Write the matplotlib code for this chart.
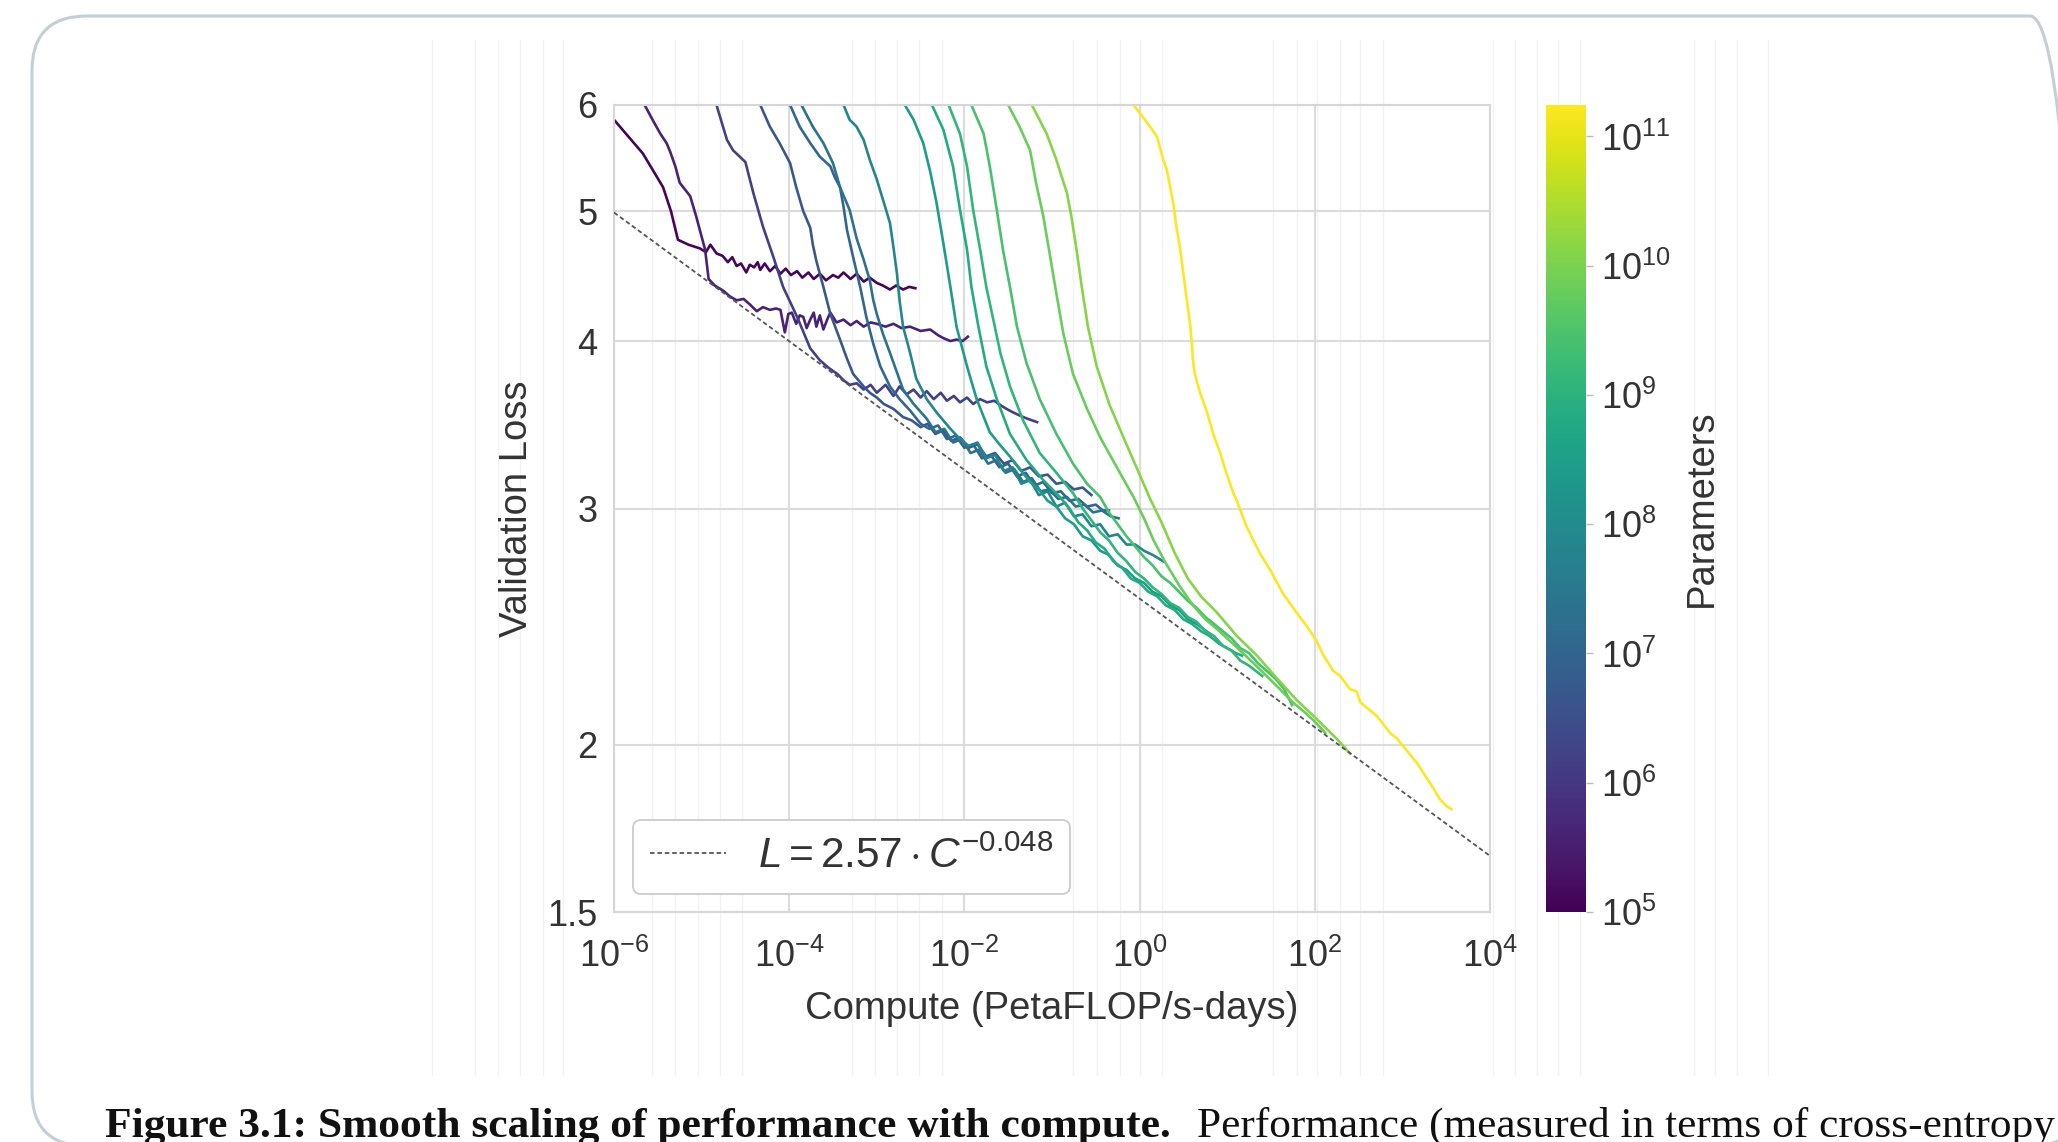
import matplotlib
matplotlib.use('Agg')
import matplotlib.pyplot as plt
from matplotlib.colors import LogNorm
from matplotlib.ticker import NullLocator
from matplotlib.patches import FancyBboxPatch
from matplotlib.lines import Line2D
from matplotlib.transforms import IdentityTransform

plt.rcParams['font.family'] = ['Liberation Sans', 'DejaVu Sans']
plt.rcParams['mathtext.fontset'] = 'custom'
plt.rcParams['mathtext.rm'] = 'Liberation Sans'
plt.rcParams['mathtext.it'] = 'Liberation Sans:italic'
plt.rcParams['mathtext.bf'] = 'Liberation Sans:bold'

# ---- data: each run is a list of (log10 compute [PF-days], validation loss)
run_1 = [(-6.0, 5.85), (-5.67, 5.52), (-5.44, 5.21), (-5.35, 5.00), (-5.27, 4.76), (-5.15, 4.72),
         (-5.02, 4.69), (-4.95, 4.66), (-4.90, 4.72), (-4.83, 4.65), (-4.76, 4.63), (-4.70, 4.58),
         (-4.65, 4.62), (-4.60, 4.55), (-4.55, 4.57), (-4.49, 4.50), (-4.45, 4.56), (-4.40, 4.54),
         (-4.36, 4.58), (-4.33, 4.52), (-4.28, 4.57), (-4.22, 4.51), (-4.16, 4.55), (-4.10, 4.49),
         (-4.04, 4.53), (-3.98, 4.48), (-3.91, 4.51), (-3.85, 4.46), (-3.78, 4.50), (-3.72, 4.45),
         (-3.65, 4.49), (-3.58, 4.44), (-3.50, 4.48), (-3.44, 4.46), (-3.38, 4.50), (-3.30, 4.45),
         (-3.23, 4.49), (-3.15, 4.43), (-3.08, 4.46), (-3.00, 4.42), (-2.93, 4.40), (-2.85, 4.37),
         (-2.78, 4.40), (-2.70, 4.37), (-2.63, 4.39), (-2.56, 4.38)]
run_2 = [(-5.65, 6.0), (-5.56, 5.85), (-5.47, 5.71), (-5.40, 5.62), (-5.36, 5.54), (-5.30, 5.40),
         (-5.25, 5.25), (-5.13, 5.13), (-5.06, 4.95), (-4.96, 4.68), (-4.92, 4.45), (-4.85, 4.40),
         (-4.75, 4.36), (-4.68, 4.32), (-4.60, 4.29), (-4.52, 4.30), (-4.45, 4.26), (-4.37, 4.21),
         (-4.30, 4.24), (-4.22, 4.22), (-4.15, 4.23), (-4.10, 4.22), (-4.05, 4.06), (-4.01, 4.19),
         (-3.97, 4.20), (-3.92, 4.12), (-3.88, 4.18), (-3.84, 4.17), (-3.80, 4.09), (-3.76, 4.15),
         (-3.72, 4.20), (-3.69, 4.10), (-3.65, 4.18), (-3.61, 4.08), (-3.56, 4.16), (-3.53, 4.20),
         (-3.46, 4.13), (-3.38, 4.15), (-3.30, 4.11), (-3.23, 4.14), (-3.15, 4.10), (-3.07, 4.13),
         (-3.00, 4.12), (-2.90, 4.10), (-2.81, 4.12), (-2.72, 4.09), (-2.62, 4.10), (-2.50, 4.07),
         (-2.39, 4.08), (-2.30, 4.04), (-2.24, 4.02), (-2.16, 4.00), (-2.09, 4.01), (-2.02, 4.00),
         (-1.96, 4.03)]
run_3 = [(-4.83, 6.0), (-4.71, 5.65), (-4.64, 5.55), (-4.50, 5.44), (-4.41, 5.16), (-4.30, 4.87),
         (-4.18, 4.62), (-4.07, 4.39), (-3.91, 4.17), (-3.76, 3.95), (-3.65, 3.87), (-3.55, 3.82),
         (-3.45, 3.78), (-3.38, 3.74), (-3.31, 3.71), (-3.23, 3.72), (-3.15, 3.68), (-3.07, 3.71),
         (-3.00, 3.66), (-2.90, 3.71), (-2.81, 3.64), (-2.74, 3.70), (-2.66, 3.65), (-2.58, 3.68),
         (-2.50, 3.63), (-2.43, 3.67), (-2.35, 3.62), (-2.27, 3.66), (-2.20, 3.61), (-2.12, 3.64),
         (-2.05, 3.60), (-1.97, 3.63), (-1.90, 3.59), (-1.82, 3.62), (-1.74, 3.60), (-1.66, 3.61),
         (-1.58, 3.58), (-1.52, 3.56), (-1.45, 3.54), (-1.37, 3.52), (-1.28, 3.50), (-1.17, 3.48)]
run_4 = [(-4.33, 6.0), (-4.22, 5.78), (-4.11, 5.62), (-3.99, 5.43), (-3.92, 5.21), (-3.84, 5.00),
         (-3.76, 4.86), (-3.73, 4.72), (-3.69, 4.59), (-3.61, 4.39), (-3.53, 4.19), (-3.42, 4.01),
         (-3.34, 3.88), (-3.27, 3.78), (-3.15, 3.70), (-3.08, 3.66), (-3.00, 3.63), (-2.92, 3.59),
         (-2.81, 3.56), (-2.70, 3.51), (-2.60, 3.49), (-2.50, 3.45), (-2.42, 3.47), (-2.33, 3.41),
         (-2.25, 3.43), (-2.15, 3.37), (-2.05, 3.39), (-1.95, 3.33), (-1.85, 3.35), (-1.75, 3.28),
         (-1.65, 3.30), (-1.55, 3.24), (-1.45, 3.26), (-1.35, 3.20), (-1.25, 3.22), (-1.15, 3.17),
         (-1.05, 3.18), (-0.95, 3.13), (-0.85, 3.14), (-0.75, 3.10), (-0.65, 3.11), (-0.55, 3.07)]
run_5 = [(-3.99, 6.0), (-3.88, 5.78), (-3.76, 5.62), (-3.65, 5.49), (-3.53, 5.40), (-3.48, 5.30),
         (-3.42, 5.21), (-3.38, 5.04), (-3.34, 4.84), (-3.27, 4.62), (-3.19, 4.39), (-3.12, 4.17),
         (-3.04, 3.98), (-2.96, 3.83), (-2.85, 3.70), (-2.74, 3.62), (-2.62, 3.55), (-2.50, 3.47),
         (-2.40, 3.44), (-2.30, 3.46), (-2.20, 3.38), (-2.10, 3.40), (-2.00, 3.33), (-1.90, 3.35),
         (-1.80, 3.27), (-1.70, 3.29), (-1.60, 3.22), (-1.50, 3.24), (-1.40, 3.17), (-1.30, 3.19),
         (-1.20, 3.12), (-1.10, 3.14), (-1.00, 3.08), (-0.90, 3.09), (-0.80, 3.04), (-0.70, 3.05),
         (-0.60, 3.01), (-0.50, 3.02), (-0.42, 2.99), (-0.35, 2.99)]
run_6 = [(-3.86, 6.0), (-3.73, 5.78), (-3.61, 5.62), (-3.50, 5.43), (-3.42, 5.21), (-3.31, 5.01),
         (-3.23, 4.77), (-3.15, 4.60), (-3.08, 4.44), (-3.04, 4.29), (-3.00, 4.19), (-2.93, 4.05),
         (-2.85, 3.92), (-2.77, 3.79), (-2.70, 3.68), (-2.58, 3.59), (-2.43, 3.50), (-2.33, 3.42),
         (-2.23, 3.44), (-2.13, 3.36), (-2.03, 3.38), (-1.93, 3.30), (-1.83, 3.32), (-1.73, 3.24),
         (-1.63, 3.26), (-1.53, 3.19), (-1.43, 3.21), (-1.33, 3.14), (-1.23, 3.16), (-1.13, 3.09),
         (-1.03, 3.10), (-0.93, 3.05), (-0.83, 3.06), (-0.73, 3.01), (-0.63, 3.02), (-0.53, 2.98),
         (-0.43, 2.99), (-0.33, 2.96), (-0.24, 2.95)]
run_7 = [(-3.38, 6.0), (-3.31, 5.85), (-3.23, 5.78), (-3.15, 5.65), (-3.08, 5.46), (-3.00, 5.28),
         (-2.93, 5.10), (-2.85, 4.90), (-2.81, 4.70), (-2.77, 4.49), (-2.74, 4.29), (-2.70, 4.10),
         (-2.62, 3.92), (-2.55, 3.75), (-2.43, 3.62), (-2.32, 3.54), (-2.16, 3.44), (-2.05, 3.38),
         (-1.95, 3.34), (-1.85, 3.36), (-1.75, 3.27), (-1.65, 3.29), (-1.55, 3.20), (-1.45, 3.22),
         (-1.35, 3.13), (-1.25, 3.15), (-1.15, 3.07), (-1.05, 3.09), (-0.95, 3.01), (-0.85, 3.03),
         (-0.75, 2.96), (-0.65, 2.97), (-0.55, 2.91), (-0.45, 2.92), (-0.35, 2.86), (-0.25, 2.87),
         (-0.15, 2.82), (-0.05, 2.82), (0.05, 2.79), (0.15, 2.77), (0.27, 2.74)]
run_8 = [(-2.68, 6.0), (-2.58, 5.85), (-2.47, 5.62), (-2.39, 5.35), (-2.32, 5.08), (-2.24, 4.73),
         (-2.16, 4.39), (-2.09, 4.10), (-1.97, 3.83), (-1.86, 3.62), (-1.71, 3.42), (-1.60, 3.35),
         (-1.48, 3.28), (-1.35, 3.20), (-1.25, 3.14), (-1.15, 3.10), (-1.05, 3.04), (-0.95, 3.01),
         (-0.85, 2.95), (-0.75, 2.92), (-0.65, 2.86), (-0.55, 2.84), (-0.45, 2.79), (-0.35, 2.77),
         (-0.25, 2.72), (-0.15, 2.70), (-0.05, 2.66), (0.05, 2.64), (0.15, 2.60), (0.25, 2.58),
         (0.35, 2.54), (0.45, 2.52), (0.55, 2.48), (0.65, 2.46), (0.80, 2.42)]
run_9 = [(-2.37, 6.0), (-2.24, 5.75), (-2.13, 5.40), (-2.05, 5.01), (-1.97, 4.68), (-1.92, 4.39),
         (-1.84, 4.10), (-1.75, 3.83), (-1.63, 3.62), (-1.48, 3.41), (-1.29, 3.26), (-1.10, 3.15),
         (-0.91, 3.06), (-0.80, 3.00), (-0.70, 2.93), (-0.60, 2.89), (-0.50, 2.83), (-0.40, 2.80),
         (-0.30, 2.74), (-0.20, 2.71), (-0.10, 2.66), (0.00, 2.64), (0.10, 2.60), (0.20, 2.58),
         (0.30, 2.54), (0.40, 2.52), (0.50, 2.48), (0.60, 2.46), (0.70, 2.43), (0.80, 2.41),
         (0.90, 2.38), (1.00, 2.36), (1.10, 2.34), (1.17, 2.33)]
run_10 = [(-2.18, 6.0), (-2.05, 5.71), (-1.97, 5.40), (-1.90, 5.01), (-1.82, 4.68), (-1.75, 4.39),
          (-1.67, 4.15), (-1.59, 3.92), (-1.48, 3.70), (-1.33, 3.49), (-1.14, 3.30), (-0.95, 3.19),
          (-0.76, 3.08), (-0.65, 3.00), (-0.55, 2.94), (-0.45, 2.88), (-0.35, 2.84), (-0.25, 2.78),
          (-0.15, 2.74), (-0.05, 2.69), (0.05, 2.66), (0.15, 2.62), (0.25, 2.59), (0.35, 2.55),
          (0.45, 2.53), (0.55, 2.49), (0.65, 2.47), (0.75, 2.43), (0.85, 2.41), (0.95, 2.37),
          (1.05, 2.35), (1.15, 2.31), (1.25, 2.29), (1.40, 2.25)]
run_11 = [(-1.92, 6.0), (-1.78, 5.71), (-1.71, 5.40), (-1.63, 5.01), (-1.56, 4.68), (-1.48, 4.39),
          (-1.40, 4.10), (-1.29, 3.85), (-1.14, 3.62), (-0.95, 3.41), (-0.76, 3.24), (-0.60, 3.13),
          (-0.45, 3.06), (-0.35, 2.98), (-0.25, 2.92), (-0.15, 2.86), (-0.05, 2.81), (0.05, 2.76),
          (0.15, 2.72), (0.25, 2.67), (0.35, 2.64), (0.45, 2.60), (0.55, 2.56), (0.65, 2.53),
          (0.75, 2.49), (0.85, 2.46), (0.95, 2.43), (1.05, 2.40), (1.15, 2.36), (1.25, 2.34),
          (1.35, 2.30), (1.45, 2.27), (1.55, 2.24), (1.65, 2.20), (1.74, 2.14)]
run_12 = [(-1.50, 6.0), (-1.37, 5.78), (-1.25, 5.55), (-1.18, 5.24), (-1.10, 4.96), (-1.02, 4.62),
          (-0.95, 4.34), (-0.87, 4.05), (-0.76, 3.78), (-0.60, 3.56), (-0.45, 3.39), (-0.26, 3.22),
          (-0.07, 3.06), (0.05, 2.95), (0.16, 2.84), (0.30, 2.73), (0.45, 2.63), (0.61, 2.54),
          (0.75, 2.48), (0.88, 2.44), (1.00, 2.40), (1.15, 2.35), (1.30, 2.30), (1.45, 2.25),
          (1.60, 2.20), (1.75, 2.15), (1.90, 2.11), (2.00, 2.08), (2.12, 2.04)]
run_13 = [(-1.23, 6.0), (-1.06, 5.71), (-0.95, 5.46), (-0.83, 5.16), (-0.78, 4.96), (-0.72, 4.68),
          (-0.66, 4.39), (-0.59, 4.10), (-0.49, 3.83), (-0.34, 3.58), (-0.15, 3.35), (0.00, 3.18),
          (0.12, 3.05), (0.25, 2.93), (0.40, 2.78), (0.55, 2.66), (0.70, 2.58), (0.88, 2.51),
          (1.11, 2.41), (1.34, 2.33), (1.57, 2.24), (1.79, 2.16), (2.02, 2.09), (2.25, 2.02),
          (2.40, 1.97)]
run_14 = [(-0.07, 6.0), (0.01, 5.91), (0.12, 5.78), (0.20, 5.68), (0.27, 5.46), (0.31, 5.37),
          (0.35, 5.21), (0.39, 5.04), (0.42, 4.87), (0.46, 4.70), (0.50, 4.49), (0.54, 4.29),
          (0.58, 4.10), (0.61, 3.87), (0.63, 3.78), (0.65, 3.74), (0.69, 3.66), (0.77, 3.54),
          (0.84, 3.41), (0.92, 3.30), (0.99, 3.19), (1.07, 3.08), (1.11, 3.04), (1.22, 2.91),
          (1.37, 2.78), (1.49, 2.70), (1.64, 2.59), (1.79, 2.51), (1.91, 2.45), (2.02, 2.39),
          (2.10, 2.33), (2.21, 2.27), (2.29, 2.25), (2.40, 2.20), (2.48, 2.19), (2.52, 2.15),
          (2.71, 2.10), (2.86, 2.04), (2.94, 2.02), (3.16, 1.94), (3.32, 1.87), (3.43, 1.82),
          (3.50, 1.80), (3.56, 1.79)]

runs = [run_1, run_2, run_3, run_4, run_5, run_6, run_7, run_8, run_9, run_10,
        run_11, run_12, run_13, run_14]
params = [1.2e5, 4e5, 1.6e6, 5e6, 1.1e7, 2.2e7, 7e7, 2.6e8, 6.5e8, 1.2e9,
          2.65e9, 6.4e9, 1.28e10, 1.75e11]

fit_coef = 2.57
fit_exp = -0.048
fit_range = [1e-6, 1e4]

x_ticks = [1e-6, 1e-4, 1e-2, 1e0, 1e2, 1e4]
loss_ticks = [1.5, 2, 3, 4, 5, 6]
loss_labels = ['1.5', '2', '3', '4', '5', '6']
param_ticks = [1e5, 1e6, 1e7, 1e8, 1e9, 1e10, 1e11]
param_range = [1e5, 1.75e11]

caption_bold = 'Figure 3.1: Smooth scaling of performance with compute.'
caption_rest = 'Performance (measured in terms of cross-entropy'

# faint page lines seen behind the figure (pixel x positions)
page_lines = [432, 475, 498, 520, 543, 563, 652, 675, 698, 720, 742, 852, 875, 897, 919, 942,
              1073, 1097, 1120, 1140, 1162, 1273, 1297, 1317, 1340, 1360, 1383,
              1493, 1515, 1537, 1558, 1580, 1694, 1715, 1737, 1768]

W, H = 2058, 1142
fig = plt.figure(figsize=(W / 100, H / 100), dpi=100)
fig.patch.set_facecolor('white')
txt = '#333333'

for px in page_lines:
    fig.add_artist(Line2D([px, px], [H - 40, H - 1075], transform=IdentityTransform(),
                          color='#f2f2f2', lw=1, zorder=-1))

frame = FancyBboxPatch((32, -4), 2085 - 32, H - 16 + 4,
                       boxstyle='round,pad=0,rounding_size=55', transform=IdentityTransform(),
                       fc='none', ec='#c3ced5', lw=2.2, zorder=-1)
fig.add_artist(frame)

ax = fig.add_axes([614 / W, 230 / H, 876 / W, 807 / H])
ax.set_facecolor('none')

cmap = plt.get_cmap('viridis')
norm = LogNorm(vmin=param_range[0], vmax=param_range[1])

for run, n in zip(runs, params):
    xs = [10 ** p[0] for p in run]
    ys = [p[1] for p in run]
    ax.plot(xs, ys, color=cmap(norm(n)), lw=1.9, zorder=2)

fit_y = [fit_coef * c ** fit_exp for c in fit_range]
fit_line, = ax.plot(fit_range, fit_y, color='#555555', lw=1.3, ls=(0, (2.5, 1.6)), zorder=3,
                    label=r'$L = 2.57 \cdot C^{-0.048}$')

ax.set_xscale('log')
ax.set_yscale('log')
ax.set_xlim(fit_range)
ax.set_ylim(1.5, 6)
ax.set_xticks(x_ticks)
ax.xaxis.set_minor_locator(NullLocator())
ax.set_yticks(loss_ticks)
ax.set_yticklabels(loss_labels)
ax.yaxis.set_minor_locator(NullLocator())

ax.grid(True, which='major', color='#dcdcdc', lw=1.5)
ax.set_axisbelow(True)
for s in ax.spines.values():
    s.set_color('#d6d6d6')
    s.set_linewidth(1.5)
ax.tick_params(axis='both', length=0, labelsize=26, labelcolor=txt)
ax.tick_params(axis='y', pad=12)
ax.tick_params(axis='x', pad=19)

ax.set_xlabel('Compute (PetaFLOP/s-days)', fontsize=27.5, color=txt, labelpad=12)
ax.set_ylabel('Validation Loss', fontsize=27.5, color=txt, labelpad=9)

leg = ax.legend(handles=[fit_line], loc='lower left', bbox_to_anchor=(0.0217, 0.0223),
                borderaxespad=0, fontsize=30.5, frameon=True, fancybox=True,
                edgecolor='#cccccc', framealpha=1, handlelength=1.8, handletextpad=0.75,
                borderpad=0.4)
leg.get_frame().set_linewidth(1.3)
for t in leg.get_texts():
    t.set_color(txt)

cax = fig.add_axes([1546 / W, 230 / H, 40 / W, 807 / H])
sm = plt.cm.ScalarMappable(norm=norm, cmap=cmap)
cb = fig.colorbar(sm, cax=cax)
cb.outline.set_visible(False)
cb.set_ticks(param_ticks)
cax.minorticks_off()
cax.tick_params(length=5, width=1, color='#bbbbbb', labelsize=26, labelcolor=txt, pad=6)
cb.set_label('Parameters', fontsize=27.5, color=txt, labelpad=9)

t1 = fig.text(105 / W, 5 / H, caption_bold, fontfamily='Liberation Serif', fontweight='bold',
              fontsize=31.3, va='baseline', ha='left', color='#111111')
fig.canvas.draw()
bb = t1.get_window_extent()
fig.text((bb.x1 + 26) / W, 5 / H, caption_rest, fontfamily='Liberation Serif',
         fontsize=31.2, va='baseline', ha='left', color='#111111')

fig.savefig('out.png', dpi=100)
